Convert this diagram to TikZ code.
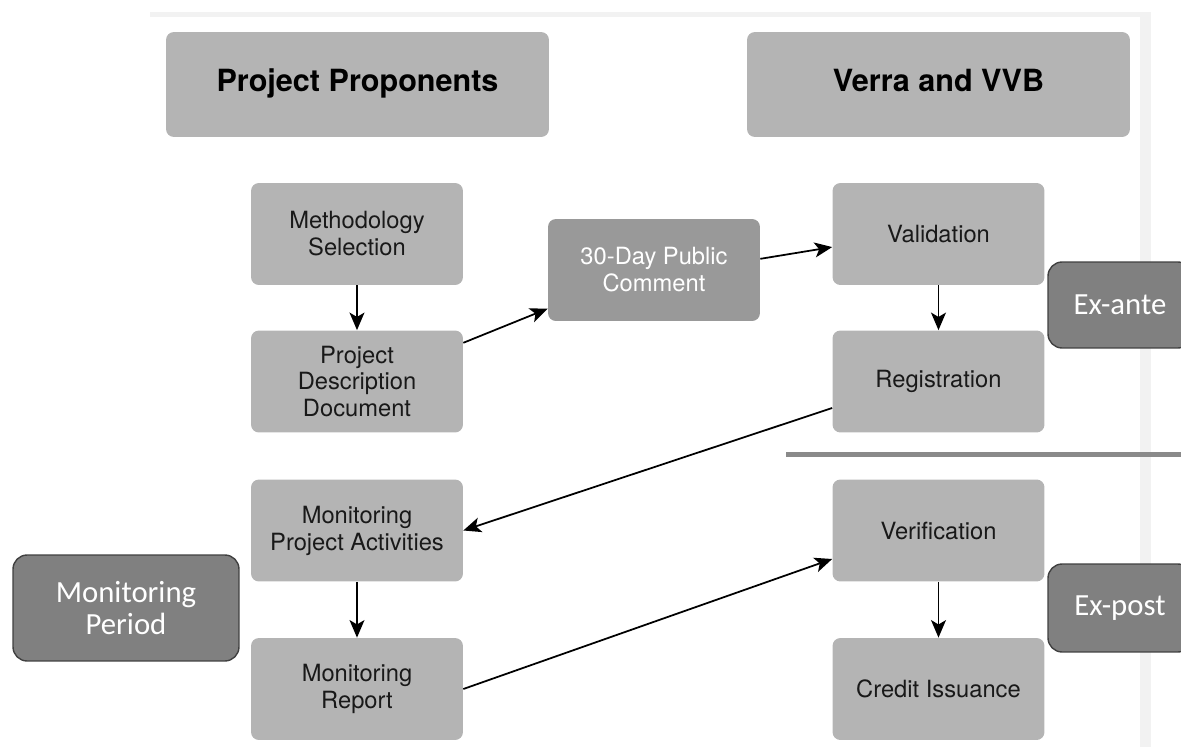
\documentclass[tikz,border=0pt]{standalone}
\usepackage{fontspec}
\setmainfont{TeX Gyre Heros}
\newfontfamily\calibri{Carlito}
\usetikzlibrary{arrows.meta}

\definecolor{boxgray}{HTML}{B4B4B4}
\definecolor{commentgray}{HTML}{999999}
\definecolor{phasegray}{HTML}{808080}
\definecolor{framegray}{HTML}{F2F2F2}
\definecolor{rulegray}{HTML}{8A8A8A}

\begin{document}
\begin{tikzpicture}[x=0.02cm,y=-0.02cm,
        head/.style={fill=boxgray,rounded corners=4.5pt,minimum width=7.66cm,minimum height=2.1cm,
                text height=0.85em,text depth=0.1em,
                font=\fontsize{17.4}{20}\selectfont\bfseries},
        stage/.style={fill=boxgray,rounded corners=4.5pt,minimum width=4.24cm,minimum height=2.04cm,
                align=center,text=black!90,font=\fontsize{13.5}{15.3}\selectfont},
        comment/.style={stage,fill=commentgray,text=white},
        phase/.style={draw=black!75,line width=0.8pt,fill=phasegray,rounded corners=8pt,align=center,
                text=white,font=\calibri\fontsize{17.5}{18.5}\selectfont},
        flow/.style={-{Stealth[length=10pt,width=8.5pt,inset=2.5pt]},line width=1pt}]

        \useasboundingbox (0,0) rectangle (1181,747);

        % light frame round the chart
        \fill[framegray] (150,12) rectangle (1150,17);
        \fill[framegray] (1140,12) rectangle (1151,747);

        % column heads
        \node[head] (proponents) at (357.5,84.5) {Project Proponents};
        \node[head] (verra) at (938.5,84.5) {Verra and VVB};

        % proponent side
        \node[stage] (method) at (357,234) {Methodology\\Selection};
        \node[stage] (pdd) at (357,381.5) {Project\\Description\\Document};
        \node[stage] (monitor) at (357,530.5) {Monitoring\\Project Activities};
        \node[stage] (report) at (357,689) {Monitoring\\Report};

        \node[comment] (comment) at (654,270) {30-Day Public\\Comment};

        % verra side
        \node[stage] (valid) at (938.5,234) {Validation};
        \node[stage] (regist) at (938.5,381.5) {Registration};
        \node[stage] (verif) at (938.5,530.5) {Verification};
        \node[stage] (issue) at (938.5,689) {Credit Issuance};

        \draw[rulegray,line width=2.8pt] (786,454.5) -- (1181,454.5);

        % phases
        \node[phase,minimum width=2.88cm,minimum height=1.72cm] (exante) at (1120,305) {Ex-ante};
        \node[phase,minimum width=2.88cm,minimum height=1.76cm] (expost) at (1120,608) {Ex-post};
        \node[phase,minimum width=4.52cm,minimum height=2.12cm] (period) at (126,608) {Monitoring\\Period};

        \draw[flow] (method) -- (pdd);
        \draw[flow] (pdd.20) -- (comment.200);
        \draw[flow] (comment.6) -- (valid.187);
        \draw[flow] (valid) -- (regist);
        \draw[flow] (regist.194) -- (monitor.east);
        \draw[flow] (monitor) -- (report);
        \draw[flow] (report.east) -- (verif.195);
        \draw[flow] (verif) -- (issue);
\end{tikzpicture}
\end{document}
